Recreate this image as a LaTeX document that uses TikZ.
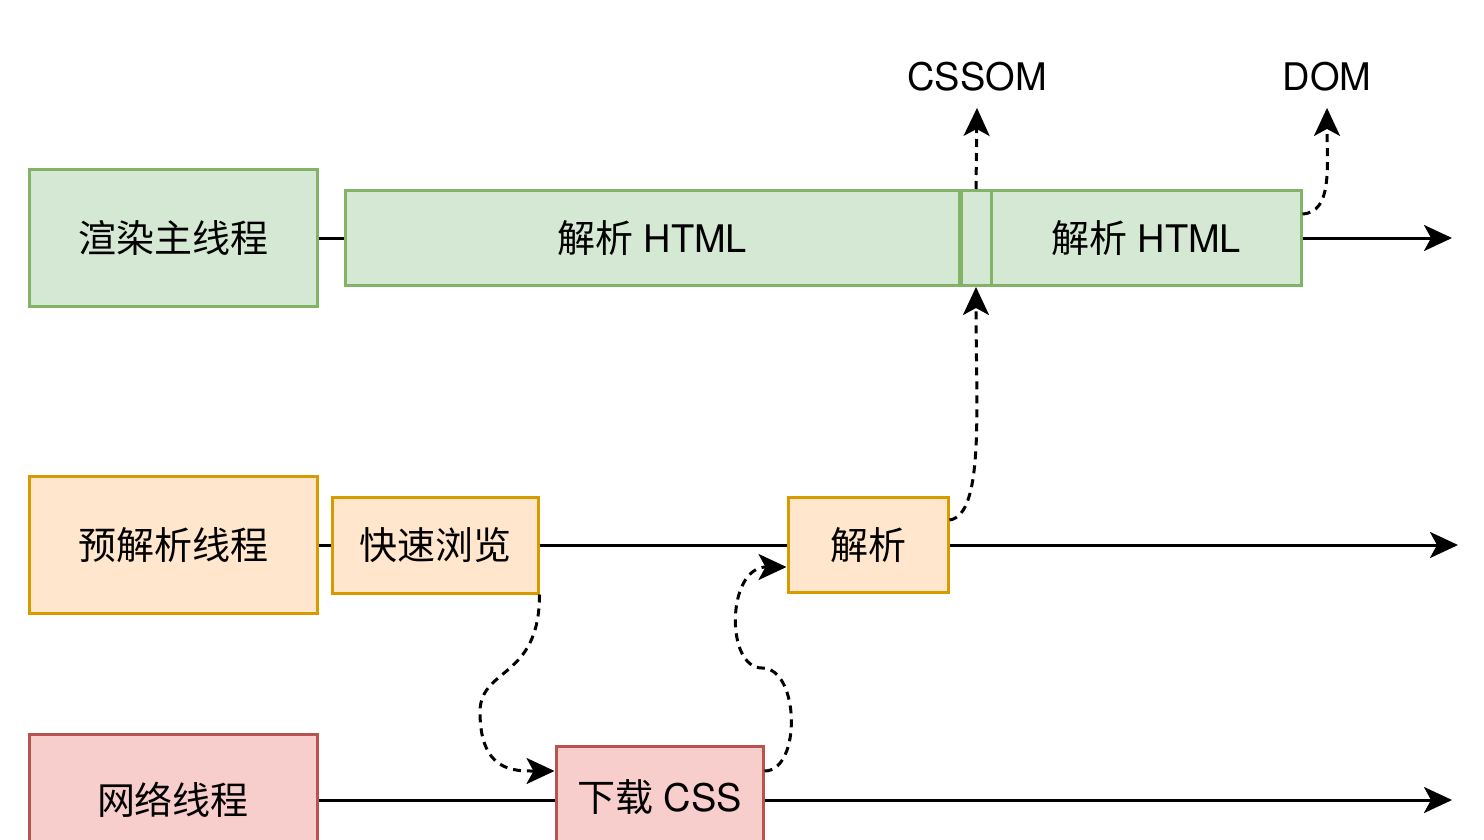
\documentclass[tikz,border=0pt]{standalone}
\usepackage{fontspec}
\setmainfont{TeX Gyre Heros}
\newfontfamily\cjk{Noto Sans CJK SC}
\usepackage{tikz}
\usetikzlibrary{arrows.meta}
\definecolor{rendfill}{HTML}{D5E8D4}
\definecolor{rendline}{HTML}{82B366}
\definecolor{prefill}{HTML}{FFE6CC}
\definecolor{preline}{HTML}{D79B00}
\definecolor{netfill}{HTML}{F8CECC}
\definecolor{netline}{HTML}{B85450}

\begin{document}
\begin{tikzpicture}[x=0.5pt,y=-0.5pt,every node/.style={font=\fontsize{19}{23}\selectfont, inner sep=0pt},
	box/.style={draw, line width=1.5pt, minimum height=47.5pt},
	thread/.style={box, minimum width=144pt, minimum height=68.5pt},
	rendbox/.style={fill=rendfill, draw=rendline},
	prebox/.style={fill=prefill, draw=preline},
	netbox/.style={fill=netfill, draw=netline},
	tag/.style={inner sep=8pt},
	line/.style={line width=1.5pt},
	flow/.style={line width=1.5pt, -{Stealth[length=14pt,width=13pt,inset=3.5pt]}},
	dasharrow/.style={flow, dash pattern=on 4pt off 3pt}]
	
	\useasboundingbox (0,0) rectangle (1484,840);
	\clip (0,0) rectangle (1484,840);
	
	\node[thread, rendbox] (render) at (173,238) {{\cjk 渲染主线程}};
	\node[box, rendbox, minimum width=307pt] (html1) at (652,238) {{\cjk 解析} HTML};
	\node[box, rendbox, minimum width=15pt] (gap) at (976,238) {};
	\node[box, rendbox, minimum width=155pt] (html2) at (1146,238) {{\cjk 解析} HTML};
	\node[tag] (cssom) at (977,77) {CSSOM};
	\node[tag] (dom) at (1327,77) {DOM};
	
	\node[thread, prebox] (pre) at (173,545) {{\cjk 预解析线程}};
	\node[box, prebox, minimum width=103pt, minimum height=48pt] (browse) at (435,545) {{\cjk 快速浏览}};
	\node[box, prebox, minimum width=80pt] (parse) at (868,545) {{\cjk 解析}};
	
	\node[thread, netbox, minimum height=66pt] (net) at (173,800) {{\cjk 网络线程}};
	\node[box, netbox, minimum width=103.5pt, minimum height=51pt] (css) at (659.5,797) {{\cjk 下载} CSS};
	
	\coordinate (renderend) at (1452,238);
	\coordinate (preend) at (1458,545);
	\coordinate (netend) at (1452,800);
	\coordinate (bend1) at (480,712);
	\coordinate (bend2) at (762,668);
	
	\draw[line] (render) -- (html1);
	\draw[flow] (html2) -- (renderend);
	\draw[line] (pre) -- (browse);
	\draw[line] (browse) -- (parse);
	\draw[flow] (parse) -- (preend);
	\draw[line] (net) -- (net -| css.west);
	\draw[flow] (css.east |- net) -- (netend);
	
	\draw[dasharrow] (gap.north) -- (cssom.south);
	\draw[dasharrow] ([yshift=12pt]html2.east) .. controls +(30,-2) and +(0,60) .. (dom.south);
	\draw[dasharrow] ([yshift=12.5pt]parse.east) .. controls +(35,-5) and +(0,120) .. (gap.south);
	\draw[dasharrow] (browse.south east) .. controls +(0,85) and +(0,-45) .. (bend1) .. controls +(0,60) and +(-40,0) .. ([yshift=13pt]css.west);
	\draw[dasharrow] ([yshift=13pt]css.east) .. controls +(37,0) and +(38,0) .. (bend2) .. controls +(-37,0) and +(-60,0) .. ([yshift=-11pt]parse.west);
	
\end{tikzpicture}
\end{document}
